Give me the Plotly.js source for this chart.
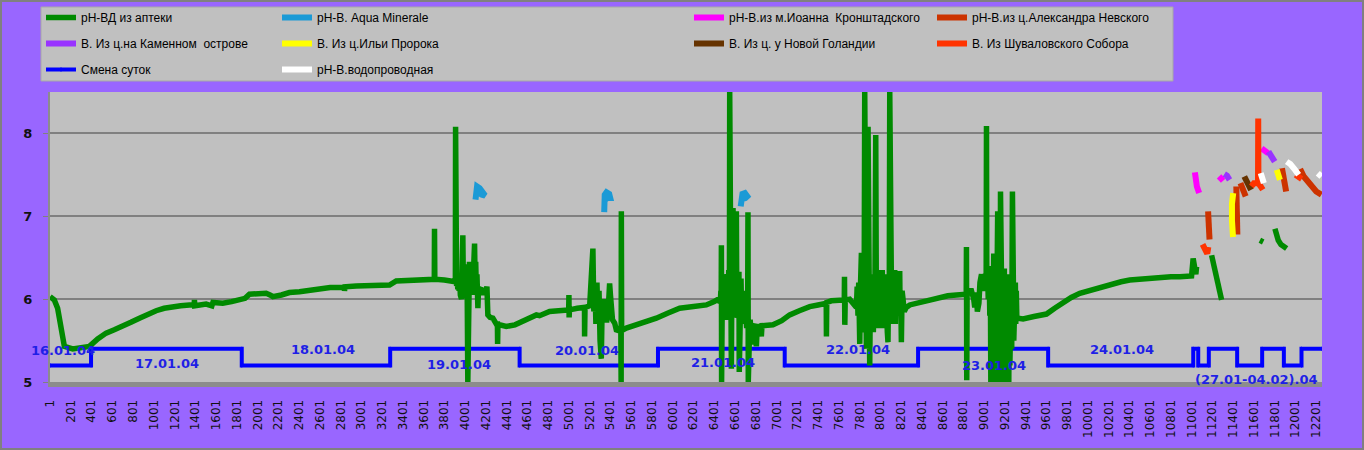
<!DOCTYPE html>
<html>
<head>
<meta charset="utf-8">
<script src="https://cdn.plot.ly/plotly-3.0.1.min.js"></script>
<style>html,body{margin:0;padding:0;background:#9966FF;}#chart{width:1364px;height:450px;}</style>
</head>
<body>
<div id="chart"></div>
<script>
// ---------- DATA ----------
const seriesNames = [
  "рН-ВД из аптеки", "рН-В. Aqua Minerale", "рН-В.из м.Иоанна  Кронштадского", "рН-В.из ц.Александра Невского",
  "В. Из ц.на Каменном  острове", "В. Из ц.Ильи Пророка", "В. Из ц. у Новой Голандии", "В. Из Шуваловского Собора",
  "Смена суток", "рН-В.водопроводная"
];

// рН-ВД из аптеки, read piece by piece (sample index, pH)
const pharmA_X = [1,42,74,107,139,219,300,380,460,541,620,701,780,862,940,1023,1100,1183,1260,1344,1390,1392,1395,1505,1560,1570,1665,1750,1826,1880,1922,2000,2083,2120,2147,2230,2307,2404,2500,2629,2700,2836,2838,2842,2951,3100,3272,3336,3500,3689,3703,3705,3708,3800,3882];
const pharmA_Y = [6.03,5.99,5.89,5.65,5.43,5.40,5.42,5.43,5.52,5.59,5.63,5.67,5.72,5.77,5.82,5.86,5.89,5.91,5.92,5.93,5.93,5.99,5.92,5.94,5.92,5.96,5.95,5.97,5.99,6.01,6.06,6.06,6.07,6.05,6.03,6.05,6.08,6.09,6.11,6.13,6.14,6.14,6.10,6.15,6.16,6.16,6.17,6.22,6.23,6.24,6.24,6.85,6.24,6.23,6.22];

const pharmB_X = [3906,3908,3912,3918,3924,3930,3936,3942,3948,3954,3960,3965,3972,3978,3984,3990,3996,4002,4008,4014,4020,4026,4030,4036,4042,4048,4054,4060,4066,4072,4078,4084,4091,4096,4102,4108,4114,4123,4130,4140,4150,4160,4171,4180,4190,4200,4210,4219];
const pharmB_Y = [6.21,8.08,6.20,6.16,6.20,6.12,6.18,6.10,6.22,6.05,6.28,6.00,6.40,6.77,6.05,6.38,6.02,6.42,6.06,6.30,6.10,5.00,6.30,6.02,6.45,6.05,6.40,6.08,6.35,6.05,6.42,6.10,6.67,6.20,6.45,6.10,6.30,5.89,6.15,6.05,6.14,6.08,6.13,6.05,6.12,6.10,6.15,5.81];

const pharmC_X = [4240,4267,4300,4311,4313,4316,4332,4396,4480,4556,4620,4686,4717,4814,4900,4975,4998,5000,5002,5005,5080,5135,5150,5151,5155,5200,5231,5240,5250,5260,5270,5280,5290,5300,5312,5320,5335,5345,5363,5380,5392,5400,5420,5441,5460,5500,5503,5505,5508,5553,5650,5750,5842,5950,6067,6200,6324,6400];
const pharmC_Y = [5.78,5.77,5.70,5.70,5.46,5.69,5.69,5.67,5.69,5.73,5.77,5.81,5.80,5.85,5.86,5.87,5.87,6.05,5.78,5.87,5.89,5.91,5.90,5.55,5.90,5.92,6.61,5.85,6.20,5.70,6.20,5.75,6.10,5.50,5.28,5.90,5.80,6.00,5.72,5.90,6.19,6.05,5.75,5.71,5.61,5.66,5.00,7.06,5.62,5.65,5.69,5.73,5.77,5.83,5.89,5.91,5.93,5.97];

const pharmD_X = [6452,6458,6464,6467,6469,6471,6473,6479,6485,6491,6497,6503,6509,6515,6521,6527,6533,6540,6546,6549,6552,6558,6565,6570,6575,6581,6586,6592,6598,6604,6609,6613,6618,6624,6630,6635,6638,6641,6646,6652,6658,6664,6670,6677,6683,6689,6695,6701,6707,6713,6719,6722,6725,6728,6734,6740,6746,6752,6758,6764,6770,6776,6782,6790,6806,6815,6828,6840,6854,6860];
const pharmD_Y = [6.01,5.95,6.10,6.01,6.65,5.00,6.00,6.25,5.80,6.30,5.85,6.20,5.75,6.30,5.90,6.25,5.80,6.35,5.85,8.50,6.00,6.40,5.16,6.30,5.80,7.10,5.90,7.00,5.78,6.40,5.90,7.06,5.78,6.30,5.80,6.20,6.33,5.12,6.10,5.75,6.25,5.80,6.10,5.70,6.05,5.75,5.95,5.70,5.90,5.65,5.85,5.80,7.05,5.00,5.80,5.60,5.75,5.55,5.72,5.50,5.70,5.45,5.68,5.70,5.43,5.70,5.60,5.68,5.55,5.68];

const pharmE_X = [6966,7050,7127,7220,7320,7400,7448,7479,7481,7484,7529,7641,7653,7655,7658,7662,7705,7740,7770,7777,7785,7792,7802,7810,7818,7825,7830,7835,7840,7845,7850,7855,7860,7866,7870,7875,7882,7887,7893,7898,7905,7910,7914,7920,7927,7933,7940,7947,7952,7956,7962,7968,7975,7980,7987,7994,8000,8006,8013,8019,8025,8032,8042,8048,8055,8062,8068,8074,8080,8086,8091,8097,8103,8110,8116,8122,8128,8134,8139,8145,8150,8158,8165,8170,8178,8187,8191,8196,8203,8210,8219,8230,8250,8284,8350,8412,8500,8573,8650,8734,8800];
const pharmE_Y = [5.69,5.74,5.81,5.86,5.91,5.93,5.95,5.95,5.55,5.96,5.98,5.99,5.99,6.27,5.69,5.99,6.00,5.95,5.90,6.15,5.80,6.20,5.46,6.20,6.56,5.75,5.60,6.30,5.70,6.25,8.50,5.90,6.30,5.40,6.20,5.60,8.08,5.70,6.30,5.20,6.10,5.65,6.30,5.70,6.25,5.60,6.20,5.70,6.30,7.98,5.90,6.30,5.70,6.35,5.65,6.30,5.70,6.25,5.75,6.35,5.65,6.25,5.80,6.30,5.70,6.20,5.60,5.48,6.20,5.80,8.50,5.85,6.30,5.70,6.35,5.80,6.30,5.75,6.35,5.70,6.10,5.80,6.25,5.85,6.05,6.34,5.80,6.10,5.48,6.10,6.00,5.85,5.90,5.93,5.95,5.97,6.00,6.03,6.04,6.05,6.06];

const pharmF_X = [8828,8830,8833,8836,8860,8878,8900,8910,8920,8927,8935,8950,8960,8975,8985,9000,9010,9020,9023,9026,9033,9040,9047,9055,9060,9065,9070,9074,9079,9083,9088,9093,9097,9102,9107,9112,9116,9120,9125,9131,9136,9140,9145,9151,9155,9158,9162,9167,9172,9176,9180,9185,9190,9195,9199,9204,9208,9213,9218,9223,9228,9233,9238,9243,9248,9253,9257,9262,9266,9273,9277,9282,9286,9291,9296,9301,9305,9310,9315,9324,9376];
const pharmF_Y = [6.06,6.63,5.02,6.06,6.10,6.10,6.00,5.90,6.05,6.05,5.85,5.95,6.20,6.30,6.10,6.20,6.30,6.20,8.09,6.10,6.35,6.00,6.40,5.80,6.30,5.00,6.30,5.00,6.35,5.10,6.30,6.55,5.00,6.30,5.10,6.40,5.00,6.30,5.05,7.06,5.00,6.30,5.10,6.20,5.00,7.30,5.00,6.30,5.10,6.20,5.00,6.30,5.05,6.37,5.00,6.30,5.10,6.20,5.00,6.30,5.20,6.30,5.00,6.20,5.20,6.10,5.30,6.10,5.40,7.30,5.50,6.20,5.50,6.10,5.60,6.20,5.70,6.10,5.80,5.77,5.76];

const pharmG_X = [9480,9601,9680,9762,9840,9922,10000,10083,10160,10243,10320,10404,10490,10565,10650,10725,10800,10886,10950,10999,11014,11025,11040,11047,11100,11192,11224,11255,11288,11400,11657,11689,11750,11802,11834,11860,11915];
const pharmG_Y = [5.79,5.82,5.89,5.96,6.02,6.07,6.10,6.13,6.16,6.19,6.21,6.23,6.24,6.25,6.26,6.27,6.27,6.27,6.28,6.28,6.49,6.40,6.30,6.39,null,6.53,6.33,6.17,5.99,null,6.71,6.69,null,6.85,6.71,6.66,6.61];

const aquaX = [4100,4103,4115,4140,4170,4192,4160,4120,null,5340,5336,5345,5362,5388,5398,5370,5350,null,6655,6660,6672,6695,6718,6700,6675];
const aquaY = [7.20,7.31,7.36,7.34,7.29,7.25,7.26,7.29,null,7.05,7.17,7.26,7.29,7.27,7.22,7.22,7.20,null,7.12,7.22,7.27,7.28,7.24,7.22,7.21];

const kronX = [11031,11040,11050,11072,null,11262,11285,11305,null,11674,11700,11738];
const kronY = [7.53,7.44,7.36,7.28,null,7.43,7.47,7.48,null,7.82,7.79,7.76];

const nevskyX = [11158,11165,11172,null,11430,11435,11440,null,11470,11495,11520,null,11870,11885,11900,11910,null,12045,12080,12120,12160,12200,12250];
const nevskyY = [7.06,6.90,6.72,null,7.36,7.10,6.78,null,7.40,7.32,7.24,null,7.58,7.50,7.40,7.30,null,7.57,7.48,7.42,7.36,7.30,7.26];

const kamennyX = [11315,11340,11365,null,11740,11770,11800];
const kamennyY = [7.51,7.49,7.44,null,7.78,7.73,7.66];

const iliaX = [11400,11388,11388,11398,null,11820,11835,11850];
const iliaY = [7.28,7.15,6.95,6.75,null,7.56,7.50,7.44];

const hollandX = [11507,11530,11550,11572];
const hollandY = [7.48,7.42,7.37,7.32];

const shuvalovX = [11105,11120,11135,11150,11160,null,11575,11600,11625,11639,11641,11643,11665,11685,null,12000,12030,12060];
const shuvalovY = [6.66,6.62,6.58,6.55,6.63,null,7.36,7.40,7.40,7.40,8.18,7.40,7.36,7.32,null,7.50,7.47,7.45];

const dayX = [1,396,396,1848,1848,3278,3278,4525,4525,5858,5858,7079,7079,8364,8364,9617,9617,11015,11015,11063,11063,11165,11165,11438,11438,11679,11679,11888,11888,12058,12058,12255];
const dayY = [5.2,5.2,5.4,5.4,5.2,5.2,5.4,5.4,5.2,5.2,5.4,5.4,5.2,5.2,5.4,5.4,5.2,5.2,5.4,5.4,5.2,5.2,5.4,5.4,5.2,5.2,5.4,5.4,5.2,5.2,5.4,5.4];

const tapX = [11665,11680,11695,null,11915,11950,11990,12030,null,12215,12250];
const tapY = [7.52,7.45,7.40,null,7.66,7.63,7.57,7.50,null,7.52,7.48];

const dayLabels = ["16.01.04","17.01.04","18.01.04","19.01.04","20.01.04","21.01.04","22.01.04","23.01.04","24.01.04","(27.01-04.02).04"];
const dayLabelX = [129,1127,2631,3937,5170,6486,7782,9093,10332,11624];
const dayLabelY = [5.38,5.22,5.39,5.21,5.38,5.24,5.39,5.20,5.39,5.03];

const xTickVals = [1,201,401,601,801,1001,1201,1401,1601,1801,2001,2201,2401,2601,2801,3001,3201,3401,3601,3801,4001,4201,4401,4601,4801,5001,5201,5401,5601,5801,6001,6201,6401,6601,6801,7001,7201,7401,7601,7801,8001,8201,8401,8601,8801,9001,9201,9401,9601,9801,10001,10201,10401,10601,10801,11001,11201,11401,11601,11801,12001,12201];
const xTickText = ["1","201","401","601","801","1001","1201","1401","1601","1801","2001","2201","2401","2601","2801","3001","3201","3401","3601","3801","4001","4201","4401","4601","4801","5001","5201","5401","5601","5801","6001","6201","6401","6601","6801","7001","7201","7401","7601","7801","8001","8201","8401","8601","8801","9001","9201","9401","9601","9801","10001","10201","10401","10601","10801","11001","11201","11401","11601","11801","12001","12201"];

const pharmacyX = [].concat(pharmA_X, pharmB_X, pharmC_X, pharmD_X, pharmE_X, pharmF_X, pharmG_X);
const pharmacyY = [].concat(pharmA_Y, pharmB_Y, pharmC_Y, pharmD_Y, pharmE_Y, pharmF_Y, pharmG_Y);

// ---------- LAYOUT HELPERS ----------
const W = 1364, H = 450, ML = 50, MR = 42, MT = 92, MB = 68;
const PW = W - ML - MR, PH = H - MT - MB;
const px = p => (p - ML) / PW;
const py = p => (H - MB - p) / PH;

const colors = ["#008A00","#1B9AD6","#FF00FF","#CC3300","#9933FF","#FFFF00","#663300","#FF3300","#0000FF","#FFFFFF"];
const legendOf = ["legend","legend2","legend3","legend4","legend","legend2","legend3","legend4","legend","legend2"];
const rankOf = [1,1,1,1,2,2,2,2,3,3];

function tr(k, x, y, width, extra) {
  return Object.assign({
    type: "scatter", mode: "lines", name: seriesNames[k], x: x, y: y,
    line: {color: colors[k], width: width}, connectgaps: false,
    legend: legendOf[k], legendgroup: "g" + k, legendrank: rankOf[k], hoverinfo: "skip"
  }, extra || {});
}

const traces = [
  tr(8, dayX, dayY, 4, {mode: "lines+markers", marker: {size: 3, symbol: "line-ns", color: colors[8], line:{width:1,color:colors[8]}}}),
  tr(0, pharmacyX, pharmacyY, 5.5),
  tr(1, aquaX, aquaY, 6),
  tr(2, kronX, kronY, 6),
  tr(3, nevskyX, nevskyY, 6),
  tr(4, kamennyX, kamennyY, 6),
  tr(5, iliaX, iliaY, 6),
  tr(6, hollandX, hollandY, 6),
  tr(7, shuvalovX, shuvalovY, 6),
  tr(9, tapX, tapY, 6)
];

const legFont = {family: "Liberation Sans, Arial, sans-serif", size: 12, color: "#000"};
function leg(leftPx) {
  return {x: px(leftPx), y: py(3), xanchor: "left", yanchor: "top", orientation: "v",
          bgcolor: "rgba(0,0,0,0)", borderwidth: 0, font: legFont, tracegroupgap: 7, itemwidth: 30};
}

const annotations = dayLabels.map((t, i) => ({
  x: dayLabelX[i], y: dayLabelY[i], xref: "x", yref: "y", text: t, showarrow: false,
  font: {family: "DejaVu Sans, Verdana, sans-serif", size: 13, color: "#1F1FE6", weight: "bold"},
  xanchor: "center", yanchor: "middle"
}));

const layout = {
  width: W, height: H,
  margin: {l: ML, r: MR, t: MT, b: MB, autoexpand: false},
  paper_bgcolor: "#9966FF",
  plot_bgcolor: "#C0C0C0",
  showlegend: true,
  legend: leg(41), legend2: leg(277), legend3: leg(689), legend4: leg(932),
  xaxis: {
    range: [0.5, 12255.5], tickmode: "array", tickvals: xTickVals, ticktext: xTickText,
    tickangle: -90, tickfont: {family: "DejaVu Sans, Verdana, sans-serif", size: 12, color: "#111"},
    showgrid: false, zeroline: false, showline: true, linecolor: "#8c8c8c", linewidth: 5,
    ticks: "", ticklabelstandoff: 8, fixedrange: true, automargin: false
  },
  yaxis: {
    range: [5, 8.5], tickmode: "array", tickvals: [5,6,7,8], ticktext: ["5","6","7","8"],
    tickfont: {family: "DejaVu Sans, Verdana, sans-serif", size: 13, color: "#111", weight: "bold"},
    showgrid: true, gridcolor: "#808080", gridwidth: 2, zeroline: false,
    showline: true, linecolor: "#8c8c8c", linewidth: 2,
    ticks: "outside", ticklen: 5, tickcolor: "#808080", ticklabelstandoff: 8, fixedrange: true, automargin: false
  },
  shapes: [
    {type: "rect", xref: "paper", yref: "paper", x0: px(41), x1: px(1173), y0: py(81), y1: py(7),
     fillcolor: "#C0C0C0", line: {color: "#A8A8A8", width: 1}, layer: "below"},
    {type: "rect", xref: "paper", yref: "paper", x0: px(1), x1: px(1363), y0: py(449), y1: py(1),
     fillcolor: "rgba(0,0,0,0)", line: {color: "#808080", width: 2}, layer: "above"}
  ],
  annotations: annotations
};

Plotly.newPlot("chart", traces, layout, {staticPlot: true, displayModeBar: false});
</script>
</body>
</html>
